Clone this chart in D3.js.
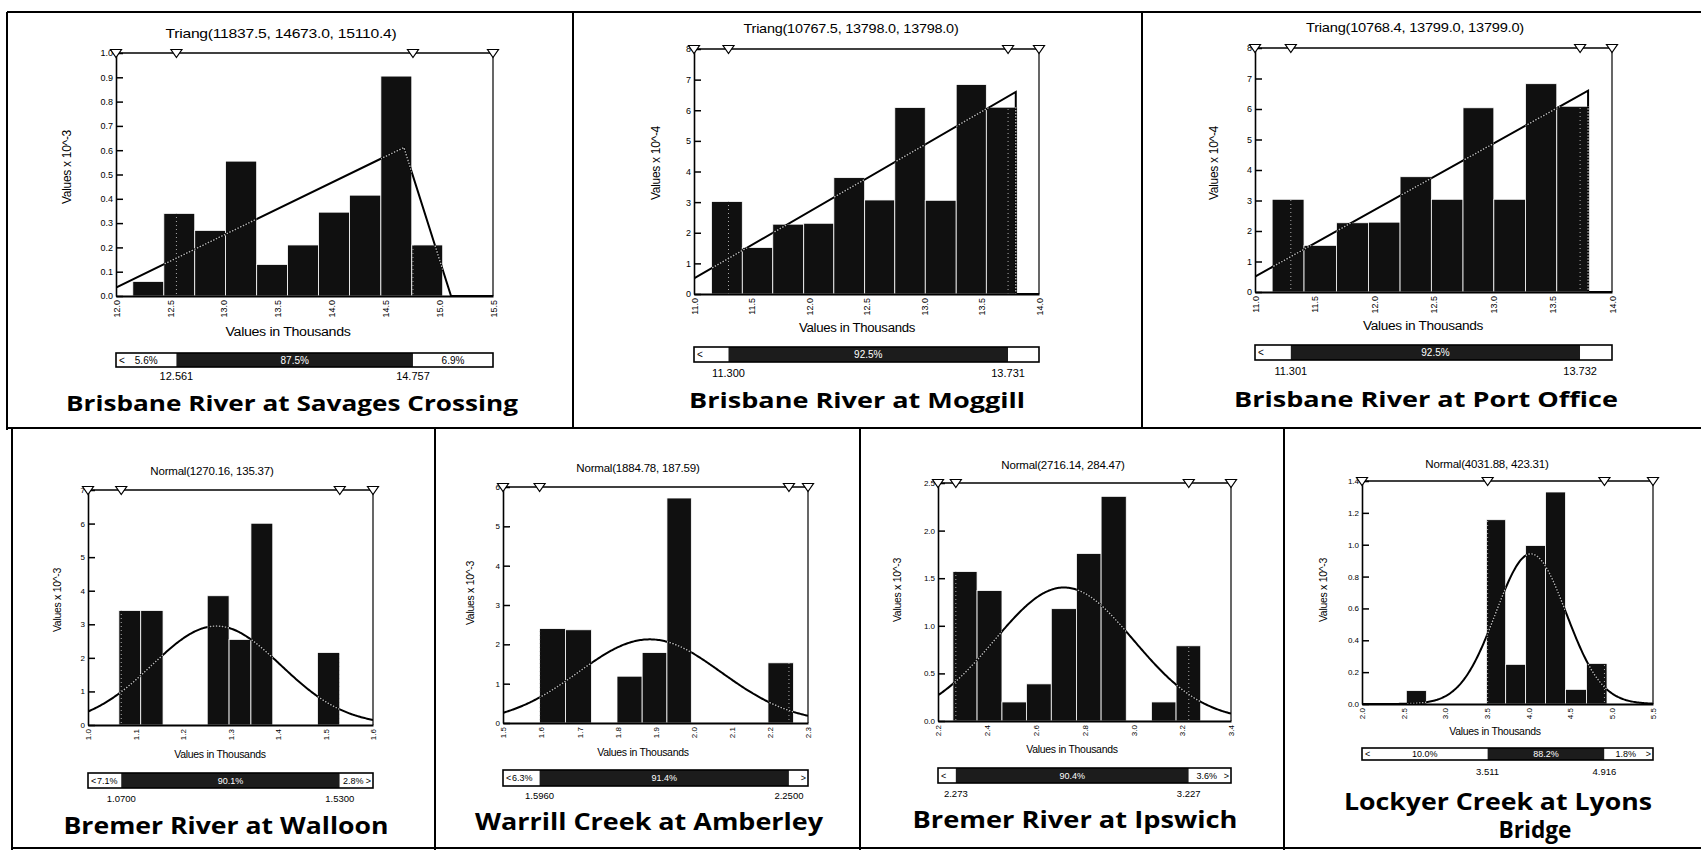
<!DOCTYPE html>
<html><head><meta charset="utf-8">
<script src="https://cdn.jsdelivr.net/npm/d3@7"></script>
<style>body{margin:0;background:#fff}svg{display:block}</style>
</head><body>
<svg id="c" width="1701" height="850"></svg>
<script>
// ---------------- data ----------------
const stationNames = [
  ["Brisbane River at Savages Crossing"], ["Brisbane River at Moggill"], ["Brisbane River at Port Office"],
  ["Bremer River at Walloon"], ["Warrill Creek at Amberley"], ["Bremer River at Ipswich"],
  ["Lockyer Creek at Lyons", "Bridge"]
];
const fitLabels = ["Triang(11837.5, 14673.0, 15110.4)", "Triang(10767.5, 13798.0, 13798.0)", "Triang(10768.4, 13799.0, 13799.0)",
  "Normal(1270.16, 135.37)", "Normal(1884.78, 187.59)", "Normal(2716.14, 284.47)", "Normal(4031.88, 423.31)"];
const fitTypes = ["triang", "triang", "triang", "normal", "normal", "normal", "normal"];
const fitParams = [[11837.5, 14673.0, 15110.4], [10767.5, 13798.0, 13798.0], [10768.4, 13799.0, 13799.0],
  [1270.16, 135.37], [1884.78, 187.59], [2716.14, 284.47], [4031.88, 423.31]];
const yExponents = [3, 4, 4, 3, 3, 3, 3];
const yAxisLabels = ["Values x 10^-3", "Values x 10^-4", "Values x 10^-4", "Values x 10^-3", "Values x 10^-3", "Values x 10^-3", "Values x 10^-3"];

// histogram bin edges (thousands) and densities (x 10^exp)
const binEdges = [
  [12.156, 12.444, 12.731, 13.017, 13.306, 13.593, 13.880, 14.168, 14.459, 14.746, 15.033],
  [11.152, 11.420, 11.685, 11.954, 12.216, 12.484, 12.746, 13.011, 13.280, 13.542, 13.810],
  [11.144, 11.412, 11.684, 11.953, 12.219, 12.482, 12.748, 13.007, 13.273, 13.536, 13.808],
  [1.065, 1.111, 1.158, 1.205, 1.251, 1.297, 1.343, 1.389, 1.435, 1.483, 1.530],
  [1.596, 1.664, 1.732, 1.799, 1.865, 1.930, 1.994, 2.061, 2.128, 2.195, 2.262],
  [2.261, 2.360, 2.462, 2.562, 2.664, 2.767, 2.868, 2.971, 3.074, 3.175, 3.276],
  [2.533, 2.774, 3.016, 3.257, 3.497, 3.728, 3.968, 4.208, 4.448, 4.700, 4.947]
];
const binDensity = [
  [0.06, 0.34, 0.27, 0.555, 0.13, 0.21, 0.345, 0.415, 0.905, 0.21],
  [3.02, 1.52, 2.28, 2.31, 3.80, 3.07, 6.09, 3.06, 6.84, 6.10],
  [3.04, 1.53, 2.27, 2.29, 3.78, 3.04, 6.04, 3.04, 6.83, 6.09],
  [3.41, 3.41, 0, 0, 3.85, 2.55, 6.01, 0, 0, 2.16],
  [2.40, 2.37, 0, 1.19, 1.79, 5.72, 0, 0, 0, 1.53],
  [1.57, 1.37, 0.20, 0.39, 1.18, 1.76, 2.36, 0, 0.20, 0.79],
  [0.084, 0, 0, 0, 1.157, 0.249, 0.995, 1.331, 0.092, 0.255]
];
const xDomains = [[12.0, 15.5], [11.0, 14.0], [11.0, 14.0], [1.0, 1.6], [1.5, 2.3], [2.2, 3.4], [2.0, 5.5]];
const xTickValues = [
  [12.0, 12.5, 13.0, 13.5, 14.0, 14.5, 15.0, 15.5],
  [11.0, 11.5, 12.0, 12.5, 13.0, 13.5, 14.0],
  [11.0, 11.5, 12.0, 12.5, 13.0, 13.5, 14.0],
  [1.0, 1.1, 1.2, 1.3, 1.4, 1.5, 1.6],
  [1.5, 1.6, 1.7, 1.8, 1.9, 2.0, 2.1, 2.2, 2.3],
  [2.2, 2.4, 2.6, 2.8, 3.0, 3.2, 3.4],
  [2.0, 2.5, 3.0, 3.5, 4.0, 4.5, 5.0, 5.5]
];
const yTickValues = [
  [0, 0.1, 0.2, 0.3, 0.4, 0.5, 0.6, 0.7, 0.8, 0.9, 1.0],
  [0, 1, 2, 3, 4, 5, 6, 7, 8],
  [0, 1, 2, 3, 4, 5, 6, 7, 8],
  [0, 1, 2, 3, 4, 5, 6, 7],
  [0, 1, 2, 3, 4, 5, 6],
  [0, 0.5, 1.0, 1.5, 2.0, 2.5],
  [0, 0.2, 0.4, 0.6, 0.8, 1.0, 1.2, 1.4]
];
const yTickDecimals = [1, 0, 0, 0, 0, 1, 1];
const delimLow = [12.561, 11.300, 11.301, 1.0700, 1.5960, 2.273, 3.511];
const delimHigh = [14.757, 13.731, 13.732, 1.5300, 2.2500, 3.227, 4.916];
const delimLowText = ["12.561", "11.300", "11.301", "1.0700", "1.5960", "2.273", "3.511"];
const delimHighText = ["14.757", "13.731", "13.732", "1.5300", "2.2500", "3.227", "4.916"];
const pctLeft = ["5.6%", "", "", "7.1%", "6.3%", "", "10.0%"];
const pctMid = ["87.5%", "92.5%", "92.5%", "90.1%", "91.4%", "90.4%", "88.2%"];
const pctRight = ["6.9%", "", "", "2.8%", "", "3.6%", "1.8%"];
const showRightArrow = [false, false, false, true, true, true, true];

// ---------------- layout ----------------
const layout = [
  {x0:116, x1:493, yT:53, yB:296, tX:281, tY:38, tW:231, xlX:288, xlY:336, xlW:125, ylX:67, ylY:167, dT:353, dB:367, dlY:380, nX:[292], nY:[411], nW:[452], nS:22},
  {x0:694, x1:1039, yT:49, yB:294, tX:851, tY:33, tW:215, xlX:857, xlY:332, xlW:116, ylX:656, ylY:163, dT:347, dB:362, dlY:377, nX:[857], nY:[408], nW:[336], nS:22},
  {x0:1255, x1:1612, yT:48, yB:292, tX:1415, tY:32, tW:218, xlX:1423, xlY:330, xlW:120, ylX:1214, ylY:163, dT:345, dB:360, dlY:375, nX:[1426], nY:[407], nW:[384], nS:22},
  {x0:88, x1:373, yT:490, yB:725, tX:212, tY:475, xlX:220, xlY:758, ylX:57, ylY:600, dT:773, dB:788, dlY:802, nX:[226], nY:[834], nW:[325], nS:24},
  {x0:503, x1:808, yT:487, yB:723, tX:638, tY:472, xlX:643, xlY:756, ylX:470, ylY:593, dT:770, dB:786, dlY:799, nX:[649], nY:[830], nW:[348], nS:24},
  {x0:938, x1:1231, yT:483, yB:721, tX:1063, tY:469, xlX:1072, xlY:753, ylX:897, ylY:590, dT:768, dB:783, dlY:797, nX:[1075], nY:[828], nW:[325], nS:24},
  {x0:1362, x1:1653, yT:481, yB:704, tX:1487, tY:468, xlX:1495, xlY:735, ylX:1323, ylY:590, dT:748, dB:760, dlY:775, nX:[1498, 1535], nY:[810, 838], nW:[308, 73], nS:24}
];

const FONT = "'Liberation Sans', Arial, sans-serif";
const svg = d3.select("#c").style("font-family", FONT);
const defs = svg.append("defs");

function curvePoints(i) {
  const lo = xDomains[i][0] * 1000, hi = xDomains[i][1] * 1000;
  const k = Math.pow(10, yExponents[i]);
  const p = fitParams[i];
  if (fitTypes[i] === "triang") {
    const [a, c, b] = p;
    const pdf = x => (x <= a || x > b) ? 0 : (x <= c ? 2 * (x - a) / ((b - a) * (c - a)) : 2 * (b - x) / ((b - a) * (b - c)));
    const pts = [[lo, pdf(lo)]];
    if (a > lo) pts.push([a, 0]);
    pts.push([c, 2 / (b - a)]);
    pts.push([b, 0]);
    if (hi > b) pts.push([hi, 0]);
    return pts.map(d => [d[0] / 1000, d[1] * k]);
  } else {
    const [mu, sd] = p;
    return d3.range(241).map(t => {
      const x = lo + (hi - lo) * t / 240;
      const z = (x - mu) / sd;
      return [x / 1000, Math.exp(-0.5 * z * z) / (sd * Math.sqrt(2 * Math.PI)) * k];
    });
  }
}

layout.forEach((L, i) => {
  const big = i < 3;
  const sTick = big ? 9 : 8, sAxis = big ? 12 : 10.5, sFit = big ? 13 : 11.5, sDl = big ? 11 : 9.5, sPct = big ? 10 : 9;
  const g = svg.append("g");
  const xs = d3.scaleLinear().domain(xDomains[i]).range([L.x0, L.x1]);
  const ys = d3.scaleLinear().domain([0, yTickValues[i][yTickValues[i].length - 1]]).range([L.yB, L.yT]);

  // fit label
  const ft = g.append("text").attr("x", L.tX).attr("y", L.tY).attr("text-anchor", "middle")
    .style("font-size", sFit + "px").style("letter-spacing", "-0.2px").text(fitLabels[i]);
  if (L.tW) ft.attr("textLength", L.tW).attr("lengthAdjust", "spacingAndGlyphs");

  // bars
  const edges = binEdges[i];
  const bins = binDensity[i].map((v, j) => ({x0: edges[j], x1: edges[j + 1], v})).filter(d => d.v > 0);
  const setBar = sel => sel.attr("x", d => xs(d.x0)).attr("width", d => xs(d.x1) - xs(d.x0))
    .attr("y", d => ys(d.v)).attr("height", d => ys(0) - ys(d.v));
  g.append("g").selectAll("rect").data(bins).join("rect").call(setBar)
    .attr("fill", "#101010").attr("stroke", "#fff").attr("stroke-width", 0.8);
  const bc = defs.append("clipPath").attr("id", "bc" + i);
  bc.selectAll("rect").data(bins).join("rect").call(setBar);
  defs.append("clipPath").attr("id", "pc" + i).append("rect")
    .attr("x", L.x0).attr("y", L.yT - 2).attr("width", L.x1 - L.x0).attr("height", L.yB - L.yT + 2);

  // delimiter dotted lines (visible inside bars)
  [delimLow[i], delimHigh[i]].forEach(v => {
    g.append("line").attr("x1", xs(v)).attr("x2", xs(v)).attr("y1", L.yT).attr("y2", L.yB)
      .attr("stroke", "#aaa").attr("stroke-width", 1).attr("stroke-dasharray", "1,3")
      .attr("clip-path", "url(#bc" + i + ")");
  });

  // fitted curve
  const pts = curvePoints(i);
  const line = d3.line().x(d => xs(d[0])).y(d => ys(d[1]));
  g.append("path").attr("d", line(pts)).attr("fill", "none").attr("stroke", "#000")
    .attr("stroke-width", 2).attr("clip-path", "url(#pc" + i + ")");
  g.append("path").attr("d", line(pts)).attr("fill", "none").attr("stroke", "#b5b5b5")
    .attr("stroke-width", 1.4).attr("stroke-dasharray", "1.5,1.5").attr("clip-path", "url(#bc" + i + ")");

  // axes
  const fmtY = d3.format("." + yTickDecimals[i] + "f");
  const yAx = g.append("g").attr("transform", `translate(${L.x0},0)`)
    .call(d3.axisLeft(ys).tickValues(yTickValues[i]).tickFormat(fmtY).tickSizeInner(-7).tickSizeOuter(0).tickPadding(3));
  yAx.selectAll("text").style("font-size", sTick + "px").style("font-family", FONT).attr("fill", "#000");
  yAx.selectAll("line").attr("stroke-width", 1.5);
  yAx.select(".domain").attr("stroke-width", 1.6);

  const xAx = g.append("g").attr("transform", `translate(0,${L.yB})`)
    .call(d3.axisBottom(xs).tickValues(xTickValues[i]).tickFormat(d3.format(".1f")).tickSize(0));
  xAx.selectAll("text").style("font-size", sTick + "px").style("font-family", FONT).attr("fill", "#000")
    .attr("y", 0).attr("x", -4).attr("dy", "0.35em").attr("transform", "rotate(-90)").style("text-anchor", "end");
  xAx.select(".domain").attr("stroke-width", 1.8);

  // top + right frame of plot
  g.append("line").attr("x1", L.x0).attr("x2", L.x1).attr("y1", L.yT).attr("y2", L.yT).attr("stroke", "#000").attr("stroke-width", 1.5);
  g.append("line").attr("x1", L.x1).attr("x2", L.x1).attr("y1", L.yT).attr("y2", L.yB).attr("stroke", "#000").attr("stroke-width", 1.2);

  // delimiter triangles
  const triX = [xDomains[i][0], delimLow[i], delimHigh[i], xDomains[i][1]];
  g.append("g").selectAll("path").data(triX).join("path")
    .attr("d", v => `M${xs(v) - 5.5},${L.yT - 3.5}L${xs(v) + 5.5},${L.yT - 3.5}L${xs(v)},${L.yT + 4.5}Z`)
    .attr("fill", "#fff").attr("stroke", "#000").attr("stroke-width", 1.2);

  // axis titles
  const xt = g.append("text").attr("x", L.xlX).attr("y", L.xlY).attr("text-anchor", "middle")
    .style("font-size", sAxis + "px").style("letter-spacing", "-0.3px").text("Values in Thousands");
  if (L.xlW) xt.attr("textLength", L.xlW).attr("lengthAdjust", "spacingAndGlyphs");
  g.append("text").attr("transform", `translate(${L.ylX},${L.ylY}) rotate(-90)`).attr("text-anchor", "middle")
    .attr("dy", "0.35em").style("font-size", sAxis + "px").style("letter-spacing", "-0.3px").text(yAxisLabels[i]);

  // delimiter bar
  const dl = xs(delimLow[i]), dh = xs(delimHigh[i]);
  g.append("rect").attr("x", L.x0).attr("y", L.dT).attr("width", dl - L.x0).attr("height", L.dB - L.dT).attr("fill", "#fff");
  g.append("rect").attr("x", dl).attr("y", L.dT).attr("width", dh - dl).attr("height", L.dB - L.dT).attr("fill", "#1c1c1c");
  g.append("rect").attr("x", dh).attr("y", L.dT).attr("width", L.x1 - dh).attr("height", L.dB - L.dT).attr("fill", "#fff");
  g.append("rect").attr("x", L.x0).attr("y", L.dT).attr("width", L.x1 - L.x0).attr("height", L.dB - L.dT)
    .attr("fill", "none").attr("stroke", "#000").attr("stroke-width", 1.6);
  const midY = (L.dT + L.dB) / 2;
  g.append("text").attr("x", L.x0 + 3).attr("y", midY).attr("dy", "0.35em").style("font-size", sPct + "px").text("<");
  if (pctLeft[i]) {
    const segW = dl - L.x0;
    const narrow = segW < 50;
    g.append("text").attr("x", narrow ? L.x0 + 9 : (L.x0 + dl) / 2).attr("y", midY).attr("dy", "0.35em")
      .attr("text-anchor", narrow ? "start" : "middle").style("font-size", sPct + "px").text(pctLeft[i]);
  }
  g.append("text").attr("x", (dl + dh) / 2).attr("y", midY).attr("dy", "0.35em").attr("text-anchor", "middle")
    .attr("fill", "#fff").style("font-size", sPct + "px").text(pctMid[i]);
  if (pctRight[i]) {
    g.append("text").attr("x", (dh + L.x1) / 2 - (showRightArrow[i] ? 3 : 0)).attr("y", midY).attr("dy", "0.35em")
      .attr("text-anchor", "middle").style("font-size", sPct + "px").text(pctRight[i]);
  }
  if (showRightArrow[i]) {
    g.append("text").attr("x", L.x1 - 2).attr("y", midY).attr("dy", "0.35em").attr("text-anchor", "end")
      .style("font-size", sPct + "px").text(">");
  }
  g.append("text").attr("x", dl).attr("y", L.dlY).attr("text-anchor", "middle").style("font-size", sDl + "px").text(delimLowText[i]);
  g.append("text").attr("x", dh).attr("y", L.dlY).attr("text-anchor", "middle").style("font-size", sDl + "px").text(delimHighText[i]);

  // station name
  stationNames[i].forEach((s, k) => {
    g.append("text").attr("x", L.nX[k]).attr("y", L.nY[k]).attr("text-anchor", "middle")
      .attr("textLength", L.nW[k]).attr("lengthAdjust", "spacingAndGlyphs")
      .style("font-family", "'Open Sans', 'Noto Sans', sans-serif").style("font-weight", 700)
      .style("font-size", L.nS + "px").text(s);
  });
});

// outer frame / panel grid
const frame = [
  [7, 12, 1701, 12], [7, 12, 7, 430], [573, 12, 573, 428], [1142, 12, 1142, 428],
  [7, 428, 1701, 428],
  [12, 428, 12, 850], [435, 428, 435, 850], [860, 428, 860, 850], [1284, 428, 1284, 850],
  [12, 848, 1701, 848]
];
svg.append("g").selectAll("line").data(frame).join("line")
  .attr("x1", d => d[0]).attr("y1", d => d[1]).attr("x2", d => d[2]).attr("y2", d => d[3])
  .attr("stroke", "#000").attr("stroke-width", 2);
</script>
</body></html>
